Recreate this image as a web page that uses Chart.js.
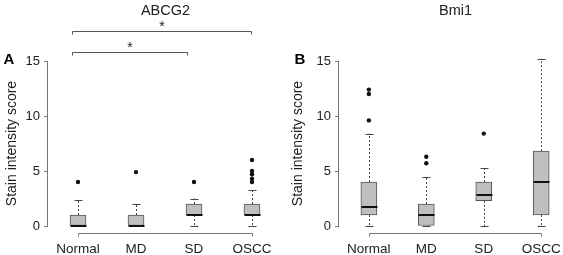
<!DOCTYPE html>
<html lang="en">
<head>
<meta charset="UTF-8">
<title>ABCG2 and Bmi1 stain intensity</title>
<script src="https://cdn.jsdelivr.net/npm/chart.js"></script>
<style>
  body { margin: 0; background: #fff; }
  .panels { position: relative; width: 563px; height: 255px; }
  #chartA { position: absolute; left: 0; top: 0; }
  #chartB { position: absolute; left: 280px; top: 0; }
</style>
</head>
<body>
<div class="panels">
  <canvas id="chartA" width="280" height="255"></canvas>
  <canvas id="chartB" width="283" height="255"></canvas>
</div>
<script>
  // groups on the x axis, same for both panels
  const groups = ['Normal', 'MD', 'SD', 'OSCC'];
  const yTicks = [0, 5, 10, 15];

  // ABCG2 (panel A)
  const abcgLow = [0, 0, 0, 0];
  const abcgQ1 = [0, 0, 1, 1];
  const abcgMedian = [0, 0, 1, 1];
  const abcgQ3 = [1, 1, 2, 2];
  const abcgHigh = [2.4, 2, 2.5, 3.3];
  const abcgOutliers = [[4], [4.9], [4], [6, 5, 4.7, 4.3, 4]];
  // significance brackets: from/to group position, level on the y scale
  const abcgBrackets = [
    { from: 0.9, to: 3.98, level: 17.75 },
    { from: 0.9, to: 2.88, level: 15.85 }
  ];

  // Bmi1 (panel B)
  const bmiLow = [0, 0, 0, 0];
  const bmiQ1 = [1, 0, 2.3, 1];
  const bmiMedian = [1.7, 1, 2.8, 4];
  const bmiQ3 = [4, 2, 4, 6.8];
  const bmiHigh = [8.4, 4.5, 5.3, 15.2];
  const bmiOutliers = [[9.6, 12, 12.4], [5.7, 6.3], [8.4], []];

  const FONT = "'Liberation Sans', Arial, sans-serif";

  function makePanel(id, cfg) {
    const boxes = groups.map((g, i) => ({ x: i + 1, y: [cfg.q1[i], cfg.q3[i]] }));
    const points = [];
    cfg.outliers.forEach((list, i) => list.forEach(v => points.push({ x: i + 1, y: v })));

    // whiskers, medians, axis lines and labels
    const extras = {
      id: 'boxExtras',
      afterDatasetsDraw(chart) {
        const ctx = chart.ctx;
        const xs = chart.scales.x, ys = chart.scales.y;
        const area = chart.chartArea;
        const half = 8, cap = 4;
        ctx.save();

        groups.forEach((g, i) => {
          const cx = Math.round(xs.getPixelForValue(i + 1)) + 0.5;
          // dashed whiskers
          ctx.strokeStyle = '#444';
          ctx.lineWidth = 1;
          ctx.setLineDash([2, 2]);
          ctx.beginPath();
          ctx.moveTo(cx, ys.getPixelForValue(cfg.q3[i]));
          ctx.lineTo(cx, ys.getPixelForValue(cfg.high[i]));
          ctx.moveTo(cx, ys.getPixelForValue(cfg.q1[i]));
          ctx.lineTo(cx, ys.getPixelForValue(cfg.low[i]));
          ctx.stroke();
          ctx.setLineDash([]);
          // caps
          ctx.beginPath();
          [cfg.high[i], cfg.low[i]].forEach(v => {
            const py = Math.round(ys.getPixelForValue(v)) + 0.5;
            ctx.moveTo(cx - cap, py);
            ctx.lineTo(cx + cap, py);
          });
          ctx.stroke();
          // median
          ctx.strokeStyle = '#111';
          ctx.lineWidth = 2;
          ctx.beginPath();
          const my = Math.round(ys.getPixelForValue(cfg.median[i]));
          ctx.moveTo(cx - half, my);
          ctx.lineTo(cx + half, my);
          ctx.stroke();
        });

        // y axis line from first to last tick
        ctx.strokeStyle = '#777';
        ctx.lineWidth = 1;
        const ax = Math.round(area.left) - 0.5;
        ctx.beginPath();
        ctx.moveTo(ax, ys.getPixelForValue(yTicks[0]));
        ctx.lineTo(ax, ys.getPixelForValue(yTicks[yTicks.length - 1]));
        // x axis line between first and last group
        const by = Math.round(area.bottom) + 1.5;
        const x1 = Math.round(xs.getPixelForValue(1)) + 0.5;
        const x4 = Math.round(xs.getPixelForValue(groups.length)) + 0.5;
        ctx.moveTo(x1, by + 3);
        ctx.lineTo(x1, by);
        ctx.lineTo(x4, by);
        ctx.lineTo(x4, by + 3);
        ctx.stroke();

        // brackets
        ctx.strokeStyle = '#555';
        ctx.fillStyle = '#222';
        ctx.font = '14px ' + FONT;
        ctx.textAlign = 'center';
        ctx.textBaseline = 'alphabetic';
        (cfg.brackets || []).forEach(b => {
          const l = Math.round(xs.getPixelForValue(b.from)) + 0.5;
          const r = Math.round(xs.getPixelForValue(b.to)) + 0.5;
          const py = Math.round(ys.getPixelForValue(b.level)) + 0.5;
          ctx.beginPath();
          ctx.moveTo(l, py + 3);
          ctx.lineTo(l, py);
          ctx.lineTo(r, py);
          ctx.lineTo(r, py + 3);
          ctx.stroke();
          ctx.fillText('*', (l + r) / 2, py - 1);
        });

        // title and panel letter
        ctx.fillStyle = '#222';
        ctx.font = '14.5px ' + FONT;
        ctx.textBaseline = 'middle';
        ctx.fillText(cfg.title, (x1 + x4) / 2, 11);
        ctx.font = 'bold 15px ' + FONT;
        ctx.fillStyle = '#000';
        ctx.fillText(cfg.letter, area.left - 39, ys.getPixelForValue(yTicks[yTicks.length - 1]) - 1);
        ctx.restore();
      }
    };

    return new Chart(document.getElementById(id), {
      type: 'bar',
      data: {
        datasets: [{
          type: 'bar',
          data: boxes,
          backgroundColor: '#bfbfbf',
          borderColor: '#555',
          borderWidth: 1,
          borderSkipped: false,
          barThickness: 16
        }, {
          type: 'scatter',
          data: points,
          pointRadius: 2.2,
          pointBackgroundColor: '#111',
          pointBorderWidth: 0
        }]
      },
      options: {
        responsive: false,
        animation: false,
        devicePixelRatio: 1,
        layout: { padding: { top: 55.5, right: 4, bottom: 0, left: 0 } },
        plugins: { legend: { display: false }, tooltip: { enabled: false } },
        scales: {
          x: {
            type: 'linear',
            offset: false,
            min: cfg.xMin,
            max: cfg.xMax,
            afterBuildTicks: s => { s.ticks = groups.map((g, i) => ({ value: i + 1 })); },
            afterFit: s => { s.height = 23.5; },
            grid: { display: false },
            border: { display: false },
            ticks: {
              callback: v => groups[Math.round(v) - 1],
              font: { family: FONT, size: 13.5 },
              color: '#222',
              padding: 2,
              autoSkip: false,
              maxRotation: 0
            }
          },
          y: {
            min: -0.5,
            max: 15.5,
            afterBuildTicks: s => { s.ticks = yTicks.map(v => ({ value: v })); },
            afterFit: s => { s.width = cfg.axisWidth; },
            grid: { drawOnChartArea: false, tickLength: 4, color: '#777' },
            border: { display: false },
            ticks: { font: { family: FONT, size: 13 }, color: '#222', padding: 4 },
            title: {
              display: true,
              text: 'Stain intensity score',
              font: { family: FONT, size: 14 },
              color: '#222',
              padding: { top: cfg.titlePad, bottom: 0 }
            }
          }
        }
      },
      plugins: [extras]
    });
  }

  makePanel('chartA', {
    title: 'ABCG2', letter: 'A',
    low: abcgLow, q1: abcgQ1, median: abcgMedian, q3: abcgQ3, high: abcgHigh,
    outliers: abcgOutliers, brackets: abcgBrackets,
    axisWidth: 48, titlePad: 4, xMin: 0.483, xMax: 4.414
  });

  makePanel('chartB', {
    title: 'Bmi1', letter: 'B',
    low: bmiLow, q1: bmiQ1, median: bmiMedian, q3: bmiQ3, high: bmiHigh,
    outliers: bmiOutliers,
    axisWidth: 59, titlePad: 10, xMin: 0.48, xMax: 4.293
  });
</script>
</body>
</html>
